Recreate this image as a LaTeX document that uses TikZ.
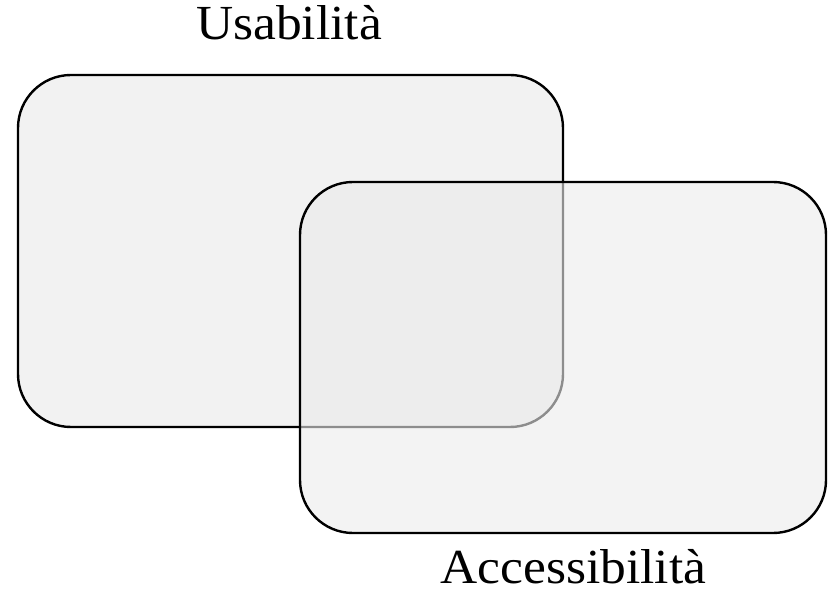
\documentclass[tikz,border=0pt]{standalone}
\usepackage{fontspec}
\setmainfont{Liberation Serif}
\tikzset{every picture/.style={line width=1.2pt}}
\tikzset{setbox/.style={draw, rounded corners=26.5pt, inner sep=0pt}}
\tikzset{setname/.style={inner sep=0pt, anchor=base, font=\fontsize{24.5}{28}\selectfont, xscale=1.05}}

\begin{document}
\begin{tikzpicture}[x=0.5pt, y=-0.5pt]
\useasboundingbox (0,0) rectangle (828,592);
\node[setbox, fill=black!5, minimum width=272.5pt, minimum height=176pt] (usab) at (290.5,251) {};
\node[setbox, fill=black!8, fill opacity=0.6, minimum width=263pt, minimum height=175.5pt] (acc) at (563,357.5) {};
\node[setname] (usablabel) at (289,40) {Usabilità};
\node[setname] (acclabel) at (573.5,583) {Accessibilità};
\end{tikzpicture}
\end{document}
